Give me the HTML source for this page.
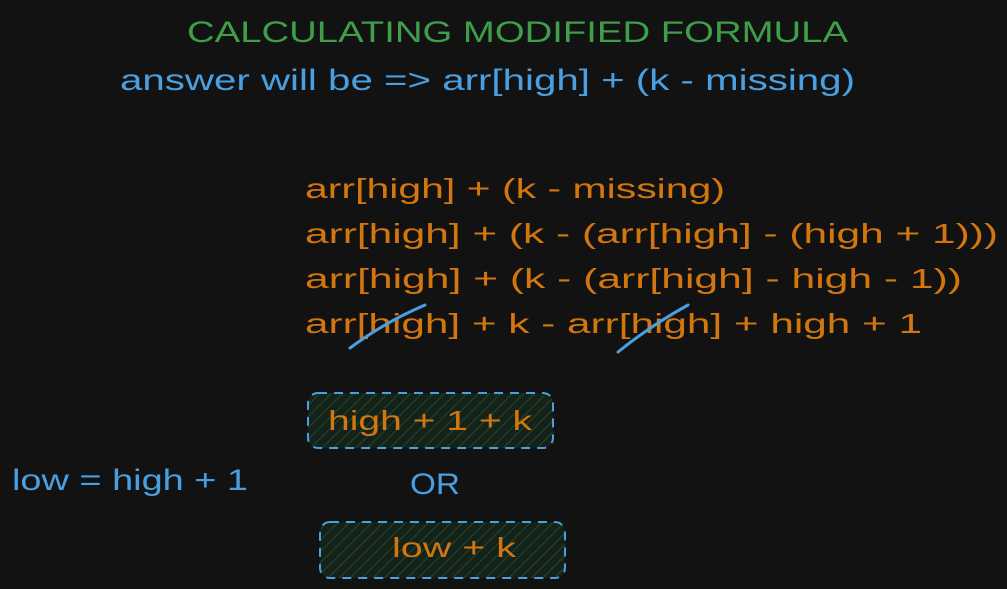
<!DOCTYPE html>
<html><head><meta charset="utf-8">
<style>
html,body{margin:0;padding:0;background:#121212;}
svg{display:block;}
text{font-family:"Liberation Sans",sans-serif;}
</style></head>
<body>
<svg width="1007" height="589" viewBox="0 0 1007 589" xmlns="http://www.w3.org/2000/svg">
<defs>
<pattern id="hatch" width="8" height="8" patternUnits="userSpaceOnUse" patternTransform="rotate(45)">
<rect width="8" height="8" fill="#15221a"/>
<line x1="0" y1="0" x2="0" y2="8" stroke="#1f4a2a" stroke-width="2"/>
</pattern>
</defs>
<rect width="1007" height="589" fill="#121212"/>
<text x="187" y="42" font-size="30" fill="#3f9e4a" textLength="661" lengthAdjust="spacingAndGlyphs">CALCULATING MODIFIED FORMULA</text>
<text x="120" y="90" font-size="30" fill="#4a9fe0" textLength="735" lengthAdjust="spacingAndGlyphs">answer will be =&gt; arr[high] + (k - missing)</text>

<g font-size="28" fill="#d2760f">
<text x="305" y="198" textLength="420" lengthAdjust="spacingAndGlyphs">arr[high] + (k - missing)</text>
<text x="305" y="243" textLength="693" lengthAdjust="spacingAndGlyphs">arr[high] + (k - (arr[high] - (high + 1)))</text>
<text x="305" y="288" textLength="657" lengthAdjust="spacingAndGlyphs">arr[high] + (k - (arr[high] - high - 1))</text>
<text x="305" y="333" textLength="617" lengthAdjust="spacingAndGlyphs">arr[high] + k - arr[high] + high + 1</text>
</g>
<path d="M350 348 Q385 322 425 305" stroke="#4a9fe0" stroke-width="3" fill="none" stroke-linecap="round"/>
<path d="M618 352 Q650 326 688 305" stroke="#4a9fe0" stroke-width="3" fill="none" stroke-linecap="round"/>

<rect x="308" y="393" width="245" height="55" rx="10" fill="url(#hatch)" stroke="#4a9fe0" stroke-width="2" stroke-dasharray="9 7"/>
<text x="328" y="430" font-size="28" fill="#d2760f" textLength="204" lengthAdjust="spacingAndGlyphs">high + 1 + k</text>

<text x="12" y="490" font-size="30" fill="#4a9fe0" textLength="236" lengthAdjust="spacingAndGlyphs">low = high + 1</text>
<text x="410" y="494" font-size="30" fill="#4a9fe0" textLength="50" lengthAdjust="spacingAndGlyphs">OR</text>

<rect x="320" y="522" width="245" height="56" rx="10" fill="url(#hatch)" stroke="#4a9fe0" stroke-width="2" stroke-dasharray="9 7"/>
<text x="392" y="557" font-size="28" fill="#d2760f" textLength="124" lengthAdjust="spacingAndGlyphs">low + k</text>
</svg>
</body></html>
